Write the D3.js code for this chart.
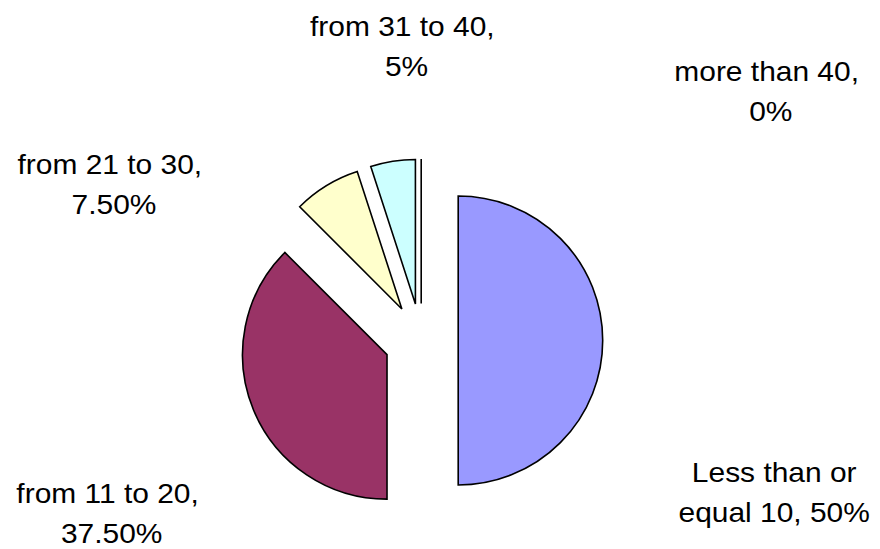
<!DOCTYPE html>
<html>
<head>
<meta charset="utf-8">
<script src="https://cdn.jsdelivr.net/npm/d3@7"></script>
<style>
  html, body { margin: 0; padding: 0; background: #ffffff; }
  svg { display: block; }
  text { font-family: Arial, "Liberation Sans", sans-serif; white-space: pre; }
</style>
</head>
<body>
<svg id="chart" width="880" height="549"></svg>
<script>
// ---- data ----
const categories = ["Less than or equal 10", "from 11 to 20", "from 21 to 30", "from 31 to 40", "more than 40"];
const values = [50, 37.5, 7.5, 5, 0];
const percentLabels = ["50%", "37.50%", "7.50%", "5%", "0%"];
const colors = ["#9999FF", "#993366", "#FFFFCC", "#CCFFFF", "#660066"];
const labelLines = [
  ["Less than or", "equal 10, 50%"],
  ["from 11 to 20, ", "37.50%"],
  ["from 21 to 30, ", "7.50%"],
  ["from 31 to 40, ", "5%"],
  ["more than 40, ", "0%"]
];

// ---- layout ----
const W = 880, H = 549;
const cx = 421.2, cy = 340.5, R = 144.5, explode = 37;
// label anchors (relative to pie centre): x of line centre, baseline of first line
const labelAnchors = [
  [353, 141.2],
  [-309.5, 162.8],
  [-307.2, -166.3],
  [-14.7, -304.5],
  [349.6, -259.2]
];
const lineGap = 40;

const svg = d3.select("#chart");
const g = svg.append("g").attr("transform", `translate(${cx},${cy})`);

const pie = d3.pie().sort(null).value(d => d)
  .startAngle(0).endAngle(2 * Math.PI);
const arcs = pie(values);
const arc = d3.arc().innerRadius(0).outerRadius(R);

g.selectAll("path.slice")
  .data(arcs)
  .join("path")
  .attr("class", "slice")
  .attr("d", arc)
  .attr("fill", (d, i) => colors[i])
  .attr("stroke", "#000")
  .attr("stroke-width", 1.6)
  .attr("stroke-linejoin", "miter")
  .attr("transform", d => {
    const a = (d.startAngle + d.endAngle) / 2;
    return `translate(${explode * Math.sin(a)},${-explode * Math.cos(a)})`;
  });

const labels = g.selectAll("text.lbl")
  .data(arcs)
  .join("text")
  .attr("class", "lbl")
  .attr("text-anchor", "middle")
  .attr("font-size", 28.5)
  .attr("fill", "#000")
  .attr("transform", (d, i) => `translate(${labelAnchors[i][0]},${labelAnchors[i][1]}) scale(1.05,1)`);

labels.each(function(d, i) {
  const t = d3.select(this);
  labelLines[i].forEach((line, j) => {
    t.append("tspan")
      .attr("x", 0)
      .attr("y", j * lineGap)
      .text(line);
  });
});
</script>
</body>
</html>
